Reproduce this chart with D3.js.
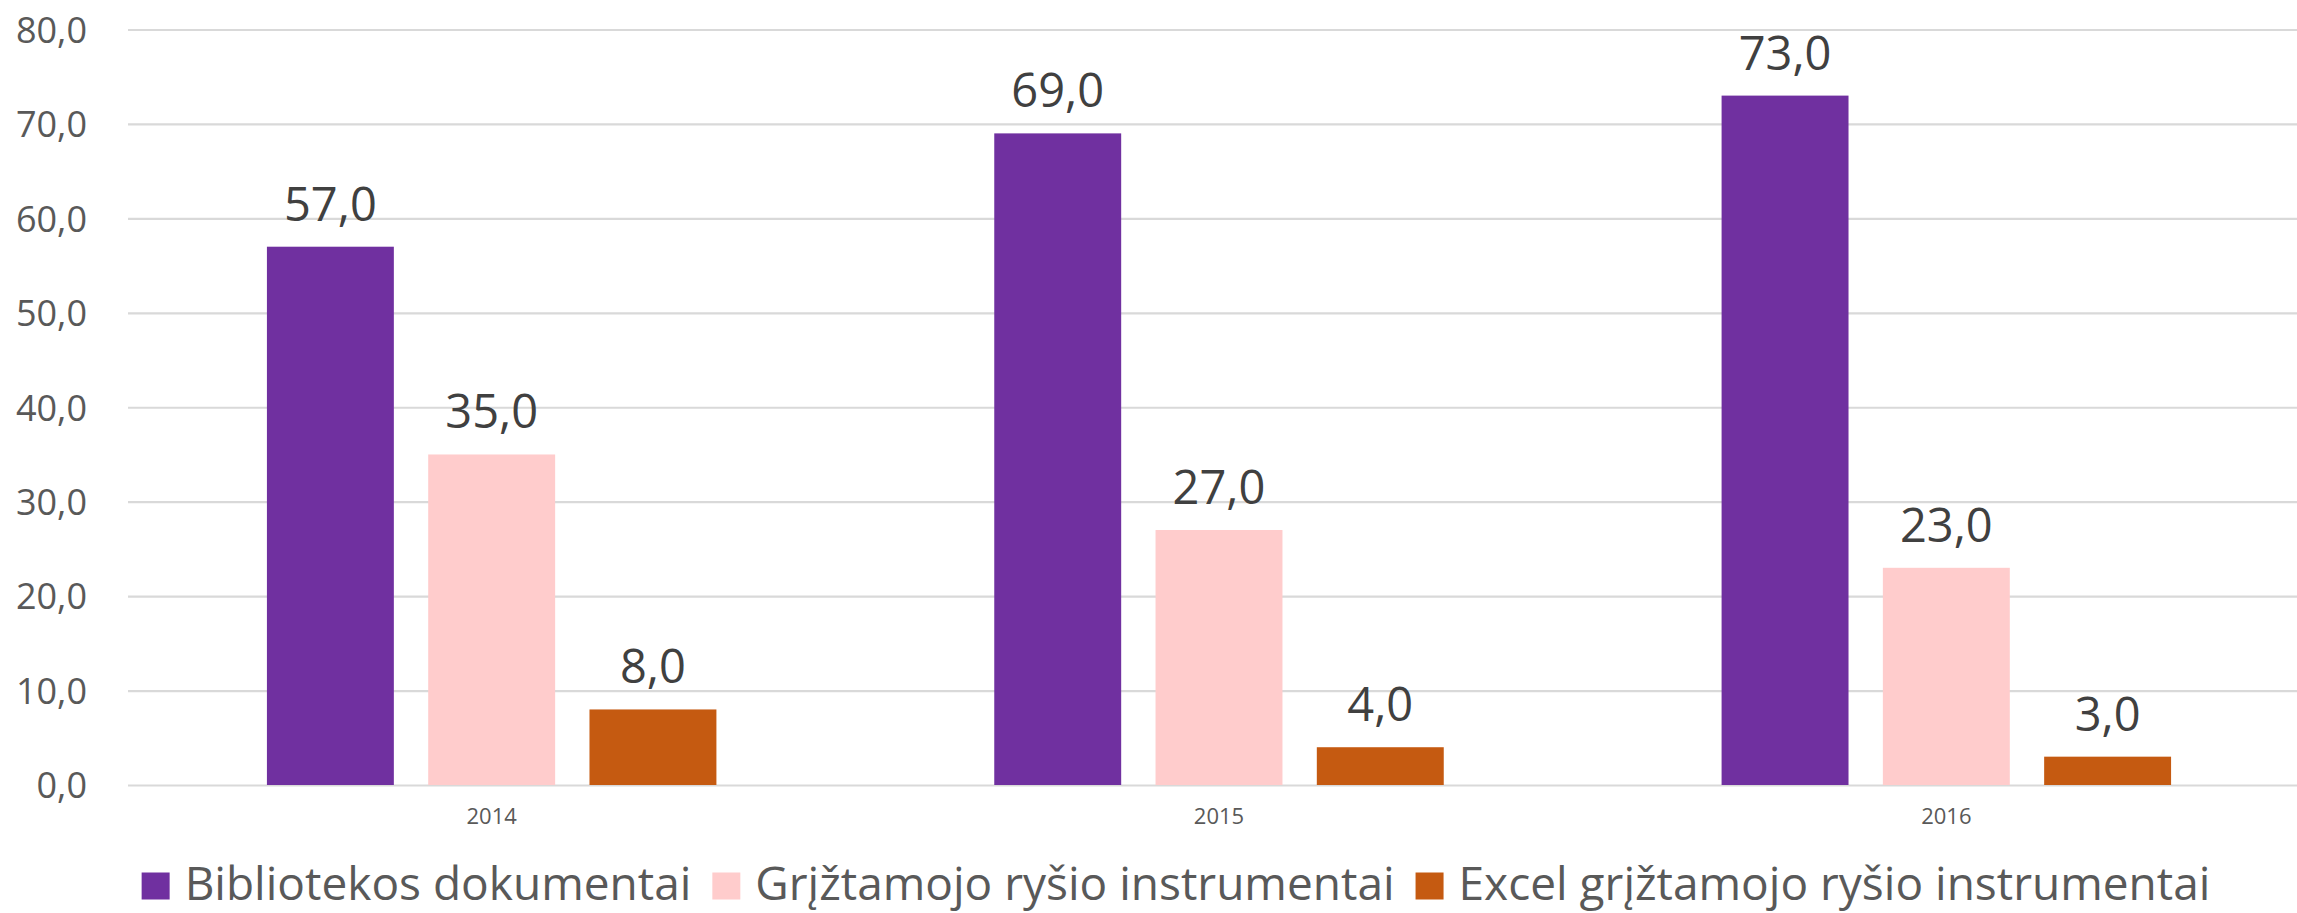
<!DOCTYPE html>
<html>
<head>
<meta charset="utf-8">
<script src="https://cdn.jsdelivr.net/npm/d3@7"></script>
<style>
  html, body { margin: 0; padding: 0; background: #fff; }
  svg { display: block; font-family: "Open Sans", sans-serif; }
</style>
</head>
<body>
<svg id="chart" width="2297" height="913"></svg>
<script>
// chart data
var years = ["2014", "2015", "2016"];
var seriesNames = ["Bibliotekos dokumentai", "Grįžtamojo ryšio instrumentai",
                   "Excel grįžtamojo ryšio instrumentai"];
var biblioteka = [57, 69, 73];
var grizt = [35, 27, 23];
var excel = [8, 4, 3];
var yTicks = [0, 10, 20, 30, 40, 50, 60, 70, 80];
var colors = ["#7030A0", "#FFCCCC", "#C55A11"];

var values = [biblioteka, grizt, excel];

window.addEventListener( "load", makeChart );
function makeChart() {
    var svg = d3.select( "#chart" );
    var left = 128, right = 2310, top = 29.5, bottom = 785;

    var fmt = d3.formatLocale( { decimal: ",", thousands: " ",
                                 grouping: [3], currency: ["", ""] } ).format( ".1f" );

    var scY = d3.scaleLinear().domain( [0, 80] ).range( [bottom, top] );
    var scX = d3.scaleBand().domain( years ).range( [left, right] )
        .paddingInner( 0.382 ).paddingOuter( 0.191 );
    var scS = d3.scaleBand().domain( d3.range( seriesNames.length ) )
        .range( [0, scX.bandwidth()] ).paddingInner( 0.213 ).paddingOuter( 0 );

    // grid + y labels
    var gy = svg.append( "g" ).attr( "transform", "translate(" + left + ",0)" )
        .call( d3.axisLeft( scY ).tickValues( yTicks ).tickFormat( fmt )
               .tickSize( -(right - left) ).tickPadding( 41 ) );
    gy.select( ".domain" ).remove();
    gy.selectAll( "line" ).attr( "stroke", "#D9D9D9" ).attr( "stroke-width", 2.2 );
    gy.selectAll( "text" ).attr( "fill", "#595959" ).attr( "dy", "0.357em" )
        .style( "font-size", "36px" ).style( "font-family", "'Open Sans', sans-serif" );

    // x labels
    var gx = svg.append( "g" ).attr( "transform", "translate(0," + bottom + ")" )
        .call( d3.axisBottom( scX ).tickSize( 0 ).tickPadding( 23.4 ) );
    gx.select( ".domain" ).remove();
    gx.selectAll( "text" ).attr( "fill", "#595959" )
        .style( "font-size", "22px" ).style( "font-family", "'Open Sans', sans-serif" );

    // bars
    var rows = [];
    years.forEach( function( yr, i ) {
        values.forEach( function( vals, s ) {
            rows.push( { year: yr, s: s, v: vals[i] } );
        } );
    } );

    var g = svg.append( "g" );
    g.selectAll( "rect" ).data( rows ).enter().append( "rect" )
        .attr( "x", d => scX( d.year ) + scS( d.s ) )
        .attr( "y", d => scY( d.v ) )
        .attr( "width", scS.bandwidth() )
        .attr( "height", d => bottom - scY( d.v ) )
        .attr( "fill", d => colors[d.s] );

    g.selectAll( "text" ).data( rows ).enter().append( "text" )
        .attr( "x", d => scX( d.year ) + scS( d.s ) + scS.bandwidth() / 2 )
        .attr( "y", d => scY( d.v ) - 26 )
        .attr( "text-anchor", "middle" )
        .attr( "fill", "#404040" )
        .style( "font-size", "47px" )
        .text( d => fmt( d.v ) );

    // legend
    var lg = svg.append( "g" );
    var items = lg.selectAll( "g" ).data( seriesNames ).enter().append( "g" );
    items.append( "rect" ).attr( "width", 28 ).attr( "height", 27 )
        .attr( "y", -13.5 ).attr( "fill", (d, i) => colors[i] );
    items.append( "text" ).attr( "x", 43 ).attr( "dy", "0.31em" )
        .attr( "fill", "#595959" ).style( "font-size", "46px" )
        .text( d => d );

    var xPos = 0;
    items.each( function() {
        var w = 43 + d3.select( this ).select( "text" ).node().getComputedTextLength();
        d3.select( this ).attr( "transform", "translate(" + xPos + ",0)" );
        xPos += w + 21;
    } );
    var total = xPos - 21;
    lg.attr( "transform", "translate(" + (1176 - total / 2) + ",886)" );
}
</script>
</body>
</html>
